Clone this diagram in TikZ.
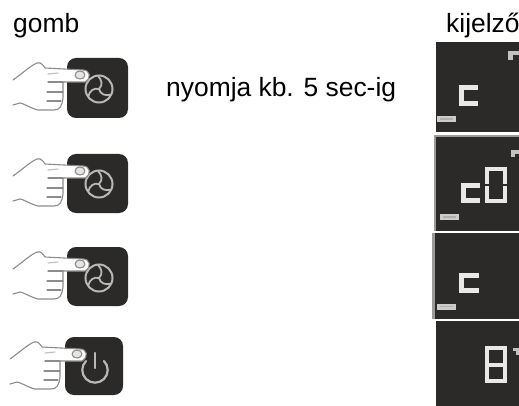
\documentclass[tikz,border=0pt]{standalone}
\usepackage{fontspec}
\setmainfont{Liberation Sans}
\definecolor{panel}{HTML}{2B2A29}
\definecolor{seg}{HTML}{E8E8E6}
\definecolor{edge}{HTML}{9A9A98}
\tikzset{
  x=1pt,y=-1pt,
  lab/.style={anchor=base west,inner sep=0pt,font=\fontsize{26.4}{28}\selectfont,text=black},
  panelbox/.style={fill=panel,draw=none},
  btn/.style={fill=panel,draw=none,rounded corners=9pt},
  segline/.style={draw=seg,line width=5pt,line cap=butt,line join=miter},
  segthin/.style={draw=seg,line width=4pt,line join=miter},
  icon/.style={draw=edge!70!white,line width=2pt,line cap=round},
  handline/.style={draw=black!45,line width=1.1pt,line cap=round,line join=round},
  pics/hand/.style={code={
    \fill[white] (-55,22) .. controls (-45,15) and (-38,8) .. (-31,5) .. controls (-27,4) and (-25,7) .. (-23,10)
      -- (15,12) .. controls (22,12) and (24,20) .. (17,24) -- (-5,24) -- (-5,40) .. controls (-6,48) and (-8,52) .. (-14,52)
      -- (-30,52) .. controls (-38,50) and (-45,45) .. (-48,45) -- (-55,47) -- cycle;
    \draw[handline] (-55,22) .. controls (-45,15) and (-38,8) .. (-31,5) .. controls (-27,4) and (-25,7) .. (-23,10)
      -- (15,12) .. controls (22,12) and (24,20) .. (17,24) -- (-5,24) -- (-5,40) .. controls (-6,48) and (-8,52) .. (-14,52)
      -- (-30,52) .. controls (-38,50) and (-45,45) .. (-48,45) -- (-55,47);
    \draw[handline] (-20,24) -- (-5,24) (-21,34) -- (-5,34) (-21,43) -- (-7,43);
    \draw[handline,draw=black!25] (-20,16) -- (-10,15);
    \draw[handline,fill=black!10] (12,17) ellipse [x radius=5pt,y radius=4pt];
  }},
  pics/fanicon/.style={code={
    \draw[icon] (0,0) circle [radius=13.5pt];
    \foreach \a in {0,120,240}
      \draw[icon,line width=1.8pt,rotate=\a] (0,0) .. controls (4,-4) and (3,-9) .. (-1,-13);
  }},
  pics/powericon/.style={code={
    \draw[icon,line width=2.2pt] (-9,-9) arc [start angle=135,end angle=405,radius=12.7pt];
    \draw[icon,line width=2.2pt] (0,-17) -- (0,-2);
  }},
  pics/menutag/.style={code={
    \fill[seg!85!panel] (0,0) rectangle (19,6);
    \fill[panel!30!seg] (3,2.4) rectangle (16,3.6);
  }},
}
\begin{document}
\begin{tikzpicture}
\useasboundingbox (0,0) rectangle (519,406);
\fill[white] (0,0) rectangle (519,406);
\node[lab] (gomb) at (13,33) {gomb};
\node[lab] (kij) at (446,33) {kijelző};
\node[lab] (nyom) at (166,97) {nyomja kb. 5 sec-ig};

% buttons
\fill[btn] (67,58) rectangle (128,118);
\pic at (99,89) {fanicon};
\pic at (68,58) {hand};
\fill[btn] (67,154) rectangle (128,213);
\pic at (99,184) {fanicon};
\pic at (68,154) {hand};
\fill[btn] (67,247) rectangle (128,306);
\pic at (99,278) {fanicon};
\pic at (68,247) {hand};
\fill[btn] (65,337) rectangle (123,395);
\pic at (95,370) {powericon};
\pic at (65,337) {hand};

% display 1
\fill[panelbox] (436,42) rectangle (519,132);
\draw[segline] (478,87.5) -- (461,87.5) -- (461,103.5) -- (478,103.5);
\fill[seg!80!panel] (508,51.5) rectangle (519,55.5); \fill[seg!80!panel] (508,51.5) rectangle (512.5,60);
\pic at (437,116) {menutag};

% display 2
\fill[panel] (434,135) rectangle (519,231);
\draw[edge,line width=2pt] (435,231) -- (435,136) -- (519,136);
\draw[segline] (480,185.5) -- (463.5,185.5) -- (463.5,200.5) -- (480,200.5);
\draw[segthin] (487,169) rectangle (505,201);
\draw[panel,line width=1.5pt] (484,185) -- (490,185) (502,185) -- (508,185);
\fill[seg!80!panel] (511,150) rectangle (519,154); \fill[seg!80!panel] (511,150) rectangle (515,157);
\pic at (440,214) {menutag};

% display 3
\fill[panel] (433,233) rectangle (519,319);
\draw[edge,line width=3pt] (433.5,233) -- (433.5,319);
\draw[segline] (479,275.5) -- (461,275.5) -- (461,290.5) -- (479,290.5);
\pic at (437,303.5) {menutag};

% display 4
\fill[panel] (436,321) rectangle (519,406);
\draw[segthin] (487,348) rectangle (505,381);
\draw[segthin] (487,364.5) -- (505,364.5);
\fill[seg!80!panel] (513,348) rectangle (519,351); \fill[seg!80!panel] (516,348) rectangle (519,355);
\end{tikzpicture}
\end{document}
